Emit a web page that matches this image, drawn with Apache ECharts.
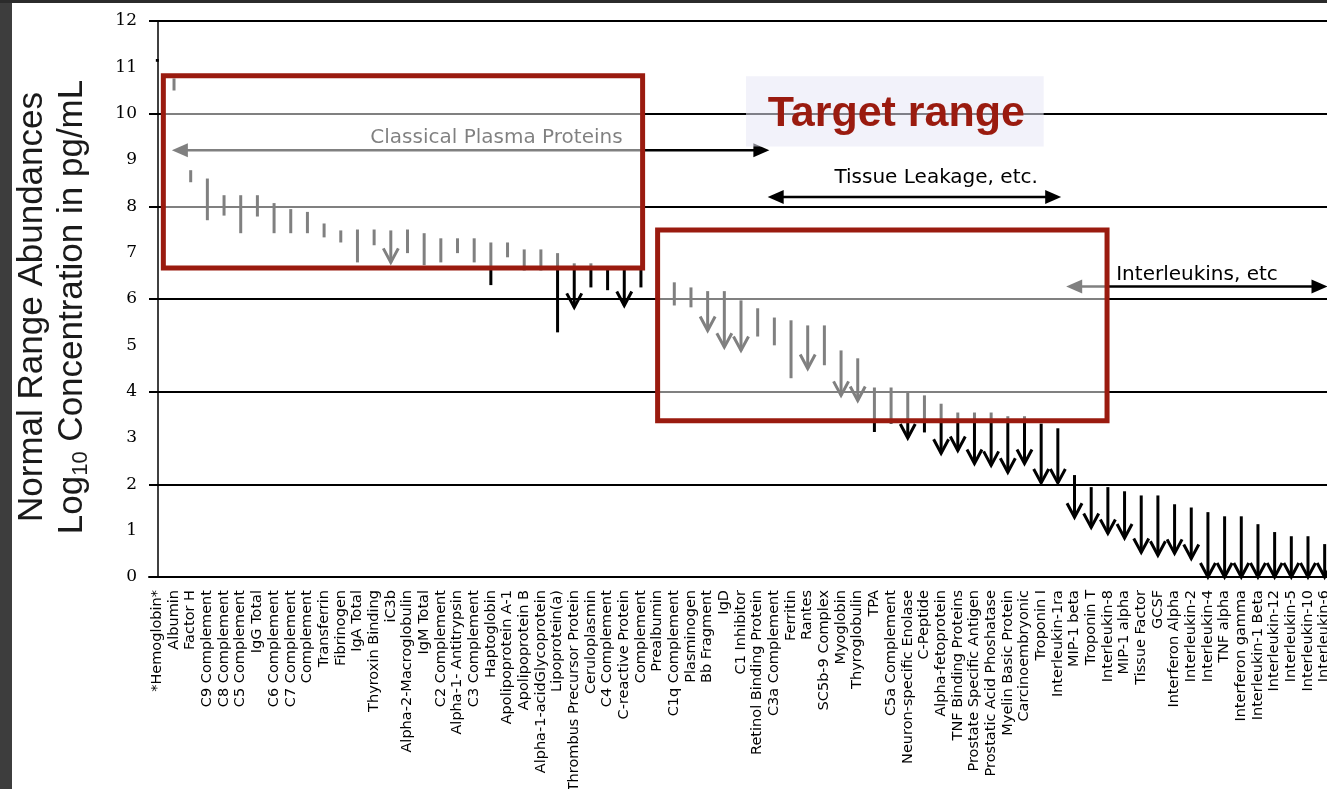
<!DOCTYPE html>
<html>
<head>
<meta charset="utf-8">
<title>Normal Range Abundances</title>
<script src="https://cdn.jsdelivr.net/npm/echarts@6.0.0/dist/echarts.min.js"></script>
<style>
  html, body { margin: 0; padding: 0; background: #ffffff; }
  #chart { width: 1327px; height: 789px; }
</style>
</head>
<body>
<div id="chart"></div>
<script>
// Plasma proteins ordered by abundance
const categories = [
  '*Hemoglobin*', 'Albumin', 'Factor H', 'C9 Complement', 'C8 Complement', 'C5 Complement',
  'IgG Total', 'C6 Complement', 'C7 Complement', 'Complement', 'Transferrin', 'Fibrinogen',
  'IgA Total', 'Thyroxin Binding', 'iC3b', 'Alpha-2-Macroglobulin', 'IgM Total', 'C2 Complement',
  'Alpha-1- Antitrypsin', 'C3 Complement', 'Haptoglobin', 'Apolipoprotein A-1', 'Apolipoprotein B',
  'Alpha-1-acidGlycoprotein', 'Lipoprotein(a)', 'Thrombus Precursor Protein', 'Ceruloplasmin',
  'C4 Complement', 'C-reactive Protein', 'Complement', 'Prealbumin', 'C1q Complement',
  'Plasminogen', 'Bb Fragment', 'IgD', 'C1 Inhibitor', 'Retinol Binding Protein', 'C3a Complement',
  'Ferritin', 'Rantes', 'SC5b-9 Complex', 'Myoglobin', 'Thyroglobulin', 'TPA', 'C5a Complement',
  'Neuron-specific Enolase', 'C-Peptide', 'Alpha-fetoprotein', 'TNF Binding Proteins',
  'Prostate Specific Antigen', 'Prostatic Acid Phoshatase', 'Myelin Basic Protein',
  'Carcinoembryonic', 'Troponin I', 'Interleukin-1ra', 'MIP-1 beta', 'Troponin T', 'Interleukin-8',
  'MIP-1 alpha', 'Tissue Factor', 'GCSF', 'Interferon Alpha', 'Interleukin-2', 'Interleukin-4',
  'TNF alpha', 'Interferon gamma', 'Interleukin-1 Beta', 'Interleukin-12', 'Interleukin-5',
  'Interleukin-10', 'Interleukin-6'
];

// Lower end of the normal range, log10 pg/mL
const rangeLow = [
  11.12, 10.50, 8.52, 7.70, 7.80, 7.42,
  7.78, 7.42, 7.42, 7.42, 7.33, 7.22,
  6.79, 7.16, 6.79, 6.99, 6.73, 6.79,
  6.99, 6.79, 6.30, 6.90, 6.62,
  6.62, 5.28, 5.82, 6.25,
  6.19, 5.86, 6.25, 6.30, 5.86,
  5.82, 5.32, 4.96, 4.89, 5.19, 5.00,
  4.29, 4.50, 4.57, 3.92, 3.81, 3.13, 3.31,
  3.00, 3.12, 2.67, 2.73,
  2.45, 2.41, 2.26,
  2.45, 2.03, 2.03, 1.29, 1.07, 0.94,
  0.84, 0.53, 0.47, 0.51, 0.40, 0.00,
  0.00, 0.00, 0.00, 0.00, 0.00,
  0.00, 0.00
];

// Upper end of the normal range, log10 pg/mL
const rangeHigh = [
  11.18, 10.76, 8.78, 8.60, 8.24, 8.24,
  8.24, 8.07, 7.94, 7.88, 7.63, 7.48,
  7.50, 7.50, 7.48, 7.50, 7.42, 7.31,
  7.31, 7.31, 7.22, 7.22, 7.07,
  7.07, 6.99, 6.77, 6.77,
  6.66, 6.66, 6.66, 6.60, 6.36,
  6.25, 6.17, 6.17, 5.97, 5.80, 5.60,
  5.54, 5.43, 5.43, 4.89, 4.72, 4.09, 4.09,
  4.00, 3.92, 3.74, 3.55,
  3.55, 3.55, 3.47,
  3.47, 3.31, 3.21, 2.20, 1.94, 1.94,
  1.85, 1.76, 1.76, 1.57, 1.50, 1.40,
  1.31, 1.31, 1.14, 0.97, 0.88,
  0.88, 0.71
];

// 1 = lower bound not established (drawn with a downward arrow)
const openLowerBound = [
  0, 0, 0, 0, 0, 0,
  0, 0, 0, 0, 0, 0,
  0, 0, 1, 0, 0, 0,
  0, 0, 0, 0, 0,
  0, 0, 1, 0,
  0, 1, 0, 0, 0,
  0, 1, 1, 1, 0, 0,
  0, 1, 0, 1, 1, 0, 0,
  1, 0, 1, 1,
  1, 1, 1,
  1, 1, 1, 1, 1, 1,
  1, 1, 1, 1, 1, 1,
  1, 1, 1, 1, 1,
  1, 1
];

// Annotation layout, in chart units (x: category index, y: log10 pg/mL)
const spanArrows = [
  { text: 'Classical Plasma Proteins', from: 0.87, to: 36.7, y: 9.21, textAt: [27.9, 9.47], align: 'right' },
  { text: 'Tissue Leakage, etc.', from: 36.6, to: 54.2, y: 8.2, textAt: [52.8, 8.62], align: 'right' },
  { text: 'Interleukins, etc', from: 54.5, to: 70.17, y: 6.27, textAt: [57.5, 6.52], align: 'left' }
];
const highlightBoxes = [
  { x0: 0.36, x1: 29.1, y0: 6.67, y1: 10.82 },
  { x0: 30.0, x1: 56.95, y0: 3.37, y1: 7.49 }
];
const targetLabel = { text: 'Target range', x0: 35.3, x1: 53.15, y0: 9.29, y1: 10.81, textAt: [36.6, 10.0] };

const INK = '#000000';
const BOX_RED = '#9a1b0f';
const LABEL_FONT = 'DejaVu Sans';

const rangeData = categories.map((c, i) => [i, rangeLow[i], rangeHigh[i], openLowerBound[i]]);

function renderRange(params, api) {
  const i = api.value(0);
  const top = api.coord([i, api.value(2)]);
  const bottom = api.coord([i, api.value(1)]);
  const children = [{
    type: 'line',
    shape: { x1: top[0], y1: top[1], x2: bottom[0], y2: bottom[1] },
    style: { stroke: INK, lineWidth: 3, lineCap: 'butt' }
  }];
  if (api.value(3)) {
    children.push({
      type: 'polyline',
      shape: { points: [[bottom[0] - 7.5, bottom[1] - 14], [bottom[0], bottom[1]], [bottom[0] + 7.5, bottom[1] - 14]] },
      style: { stroke: INK, lineWidth: 3, fill: null, lineJoin: 'miter' }
    });
  }
  return { type: 'group', children };
}

function arrowHead(tip, dir) {
  const L = 16, H = 7;
  return {
    type: 'polygon',
    shape: { points: [[tip[0], tip[1]], [tip[0] - dir * L, tip[1] - H], [tip[0] - dir * L, tip[1] + H]] },
    style: { fill: INK }
  };
}

function renderSpan(params, api) {
  const a = spanArrows[params.dataIndex];
  const left = api.coord([a.from, a.y]);
  const right = api.coord([a.to, a.y]);
  const t = api.coord(a.textAt);
  return {
    type: 'group',
    children: [
      { type: 'line', shape: { x1: left[0] + 10, y1: left[1], x2: right[0] - 10, y2: right[1] },
        style: { stroke: INK, lineWidth: 2.5 } },
      arrowHead(left, -1),
      arrowHead(right, 1),
      { type: 'text', x: t[0], y: t[1],
        style: { text: a.text, fill: INK, font: '20px "' + LABEL_FONT + '"', align: a.align, verticalAlign: 'middle' } }
    ]
  };
}

function renderBox(params, api) {
  const b = highlightBoxes[params.dataIndex];
  const p0 = api.coord([b.x0, b.y1]);
  const p1 = api.coord([b.x1, b.y0]);
  return {
    type: 'rect',
    shape: { x: p0[0], y: p0[1], width: p1[0] - p0[0], height: p1[1] - p0[1] },
    style: { fill: 'rgba(255,255,255,0.5)', stroke: BOX_RED, lineWidth: 5 }
  };
}

function renderTarget(params, api) {
  const p0 = api.coord([targetLabel.x0, targetLabel.y1]);
  const p1 = api.coord([targetLabel.x1, targetLabel.y0]);
  const t = api.coord(targetLabel.textAt);
  return {
    type: 'group',
    children: [
      { type: 'rect', shape: { x: p0[0], y: p0[1], width: p1[0] - p0[0], height: p1[1] - p0[1] },
        style: { fill: 'rgba(232,232,245,0.55)' } },
      { type: 'text', x: t[0], y: t[1],
        style: { text: targetLabel.text, fill: BOX_RED, font: 'bold 43px "Liberation Sans"', align: 'left', verticalAlign: 'middle' } }
    ]
  };
}

const chart = echarts.init(document.getElementById('chart'), null, { renderer: 'canvas' });

chart.setOption({
  animation: false,
  backgroundColor: '#ffffff',
  // the plot runs slightly past the right edge and its long labels past the bottom
  grid: { left: 149, top: 21, width: 1184, height: 556, containLabel: false, outerBoundsMode: 'none' },
  xAxis: [
    {
      type: 'category',
      data: categories,
      boundaryGap: true,
      axisLine: { show: true, lineStyle: { color: INK, width: 2 } },
      axisTick: { show: false },
      splitLine: { show: false },
      axisLabel: {
        interval: 0, rotate: 90, margin: 13,
        fontFamily: LABEL_FONT, fontSize: 14.5, color: '#000000'
      }
    },
    { type: 'value', min: -0.5, max: 70.5, show: false }
  ],
  yAxis: [
    {
      type: 'value', min: 0, max: 12, interval: 1,
      axisLine: { show: true, lineStyle: { color: INK, width: 1.5 } },
      axisTick: { show: false },
      splitLine: { show: false },
      axisLabel: { margin: 12, fontFamily: 'DejaVu Serif', fontSize: 17, color: '#000000' }
    },
    {
      type: 'value', min: 0, max: 12, interval: 2, position: 'left',
      axisLine: { show: false }, axisTick: { show: false }, axisLabel: { show: false },
      splitLine: { show: true, lineStyle: { color: INK, width: 2 } }
    }
  ],
  graphic: [
    {
      type: 'text', x: 52, y: 307, rotation: Math.PI / 2, z: 20,
      style: {
        text: '{a|Normal Range Abundances}\n{a|Log}{s|10}{a| Concentration in pg/mL}',
        align: 'center', verticalAlign: 'middle',
        rich: {
          a: { fontFamily: 'Liberation Sans', fontSize: 35, lineHeight: 40, fill: '#1a1a1a', verticalAlign: 'middle' },
          s: { fontFamily: 'Liberation Sans', fontSize: 22, lineHeight: 16, fill: '#1a1a1a', verticalAlign: 'bottom' }
        }
      }
    },
    { type: 'rect', z: 30, shape: { x: 0, y: 0, width: 12, height: 789 }, style: { fill: '#3d3d3d' } },
    { type: 'rect', z: 30, shape: { x: 0, y: 0, width: 1327, height: 3 }, style: { fill: '#2b2b2b' } }
  ],
  series: [
    {
      name: 'Normal range', type: 'custom', xAxisIndex: 1, yAxisIndex: 0, z: 2,
      renderItem: renderRange, encode: { x: 0, y: [1, 2] }, data: rangeData
    },
    {
      name: 'Groups', type: 'custom', xAxisIndex: 1, yAxisIndex: 0, z: 3, silent: true,
      renderItem: renderSpan, data: spanArrows.map(a => [a.from, a.y])
    },
    {
      name: 'Highlight', type: 'custom', xAxisIndex: 1, yAxisIndex: 0, z: 5, silent: true,
      renderItem: renderBox, data: highlightBoxes.map(b => [b.x0, b.y0])
    },
    {
      name: 'Target', type: 'custom', xAxisIndex: 1, yAxisIndex: 0, z: 6, silent: true,
      renderItem: renderTarget, data: [[targetLabel.x0, targetLabel.y0]]
    }
  ]
});
</script>
</body>
</html>
